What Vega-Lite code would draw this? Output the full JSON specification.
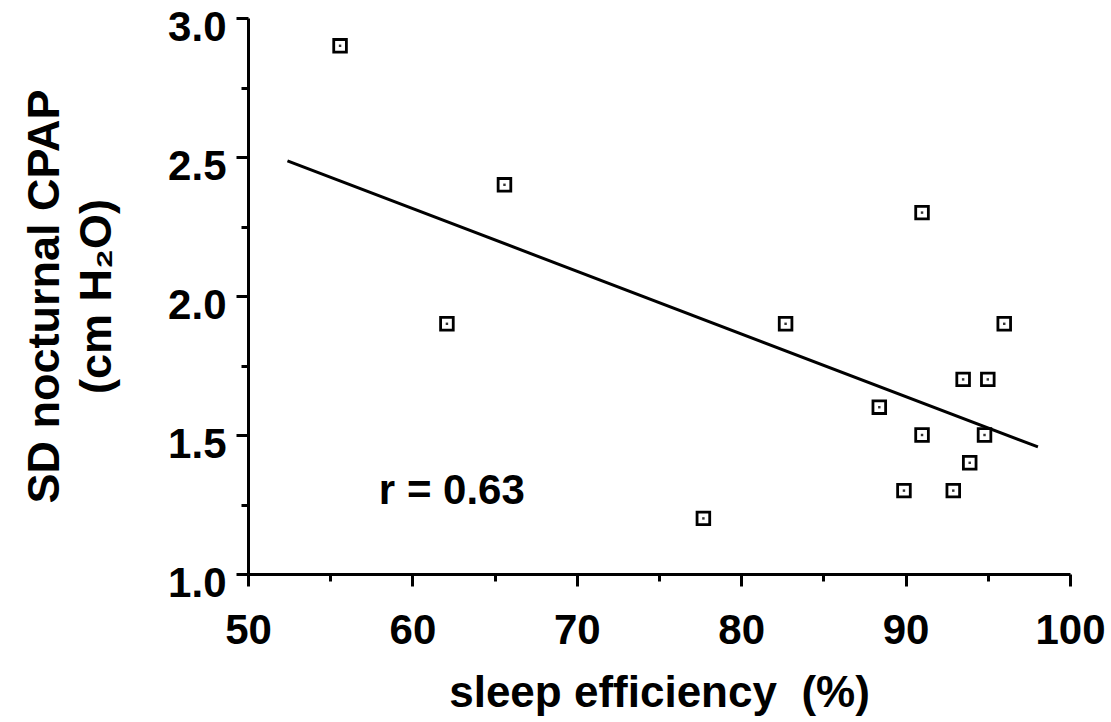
{
  "$schema": "https://vega.github.io/schema/vega-lite/v6.json",
  "width": 822,
  "height": 556,
  "autosize": "none",
  "padding": {"left": 248, "top": 18, "right": 41, "bottom": 148},
  "background": "white",
  "config": {
    "view": {"stroke": null},
    "font": "Liberation Sans",
    "axis": {"grid": false, "domainColor": "black", "tickColor": "black", "labelColor": "black", "titleColor": "black", "domainWidth": 3, "tickWidth": 3}
  },
  "datasets": {
    "points": [
      {"eff": 55.6, "sd": 2.9},
      {"eff": 65.6, "sd": 2.4},
      {"eff": 62.1, "sd": 1.9},
      {"eff": 82.7, "sd": 1.9},
      {"eff": 91.0, "sd": 2.3},
      {"eff": 96.0, "sd": 1.9},
      {"eff": 93.5, "sd": 1.7},
      {"eff": 95.0, "sd": 1.7},
      {"eff": 88.4, "sd": 1.6},
      {"eff": 91.0, "sd": 1.5},
      {"eff": 94.8, "sd": 1.5},
      {"eff": 93.9, "sd": 1.4},
      {"eff": 89.9, "sd": 1.3},
      {"eff": 92.9, "sd": 1.3},
      {"eff": 77.7, "sd": 1.2}
    ],
    "fit": [
      {"eff": 52.4, "sd": 2.486},
      {"eff": 98.05, "sd": 1.457}
    ],
    "label": [
      {"eff": 62.4, "sd": 1.30, "text": "r = 0.63"}
    ]
  },
  "layer": [
    {
      "data": {"name": "fit"},
      "mark": {"type": "line", "color": "black", "strokeWidth": 3},
      "encoding": {
        "x": {"field": "eff", "type": "quantitative", "scale": {"domain": [50, 100], "nice": false, "zero": false},
          "axis": {"orient": "bottom", "values": [55, 65, 75, 85, 95], "labels": false, "domain": false, "title": null, "tickSize": 7}},
        "y": {"field": "sd", "type": "quantitative", "scale": {"domain": [1, 3], "nice": false, "zero": false},
          "axis": {"orient": "left", "values": [1.25, 1.75, 2.25, 2.75], "labels": false, "domain": false, "title": null, "tickSize": 7}}
      }
    },
    {
      "data": {"name": "points"},
      "mark": {"type": "point", "shape": "square", "filled": false, "fill": "white", "fillOpacity": 1, "stroke": "black", "strokeWidth": 2.8, "size": 160, "opacity": 1},
      "encoding": {
        "x": {"field": "eff", "type": "quantitative",
          "axis": {"orient": "bottom", "values": [50, 60, 70, 80, 90, 100], "tickSize": 12, "labelFontSize": 42, "labelFontWeight": "bold", "labelPadding": 24, "title": "sleep efficiency\u00a0\u00a0(%)", "titleFontSize": 44, "titleFontWeight": "bold", "titlePadding": 20, "labelFlush": false}},
        "y": {"field": "sd", "type": "quantitative",
          "axis": {"orient": "left", "values": [1, 1.5, 2, 2.5, 3], "format": ".1f", "tickSize": 12, "labelFontSize": 42, "labelFontWeight": "bold", "labelPadding": 10, "labelOffset": 9, "title": ["SD nocturnal CPAP", "(cm H₂O)"], "titleFontSize": 45, "titleFontWeight": "bold", "titleLineHeight": 52, "titlePadding": 48, "labelFlush": false}}
      }
    },
    {
      "data": {"name": "points"},
      "mark": {"type": "point", "shape": "square", "filled": true, "color": "black", "size": 6, "opacity": 0.8},
      "encoding": {
        "x": {"field": "eff", "type": "quantitative", "axis": null},
        "y": {"field": "sd", "type": "quantitative", "axis": null}
      }
    },
    {
      "data": {"name": "label"},
      "mark": {"type": "text", "fontSize": 42, "fontWeight": "bold", "color": "black", "align": "center", "baseline": "middle"},
      "encoding": {
        "x": {"field": "eff", "type": "quantitative", "axis": null},
        "y": {"field": "sd", "type": "quantitative", "axis": null},
        "text": {"field": "text"}
      }
    }
  ],
  "resolve": {"axis": {"x": "independent", "y": "independent"}}
}
